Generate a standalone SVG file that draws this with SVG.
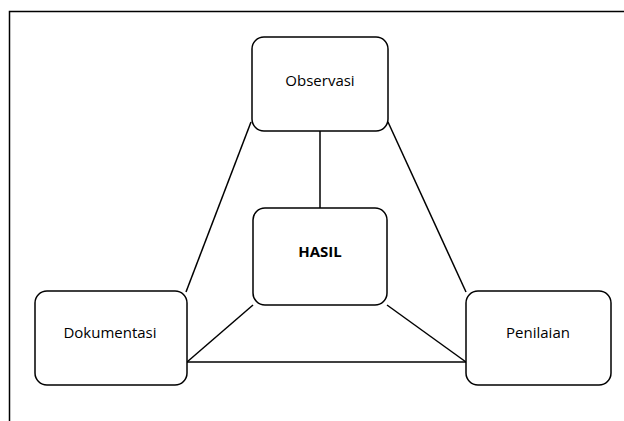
<svg xmlns="http://www.w3.org/2000/svg" width="624" height="421" viewBox="0 0 624 421">
<style>
.box{fill:#fff;stroke:#000;stroke-width:1.5}
.ln{stroke:#000;stroke-width:1.5;fill:none}
.t{font-family:"Open Sans","Liberation Sans",sans-serif;font-size:15px;fill:#000;text-anchor:middle}
.b{font-weight:bold}
</style>
<rect width="624" height="421" fill="#fff"/>
<path class="ln" d="M9.5,421 V11.5 H624"/>
<g id="connectors">
<line class="ln" x1="320" y1="131" x2="320" y2="208"/>
<line class="ln" x1="251" y1="122" x2="186" y2="292"/>
<line class="ln" x1="388" y1="122" x2="466" y2="292"/>
<line class="ln" x1="253" y1="305" x2="187" y2="362"/>
<line class="ln" x1="387" y1="305" x2="466" y2="362"/>
<line class="ln" x1="187" y1="362" x2="466" y2="362"/>
</g>
<g id="observasi">
<rect class="box" x="252" y="37" width="136" height="94" rx="12"/>
<text class="t" x="320" y="86">Observasi</text>
</g>
<g id="hasil">
<rect class="box" x="253" y="208" width="134" height="97" rx="12"/>
<text class="t b" x="320" y="257">HASIL</text>
</g>
<g id="dokumentasi">
<rect class="box" x="35" y="291" width="152" height="94" rx="12"/>
<text class="t" x="110" y="338">Dokumentasi</text>
</g>
<g id="penilaian">
<rect class="box" x="466" y="291" width="145" height="94" rx="12"/>
<text class="t" x="538" y="338">Penilaian</text>
</g>
</svg>
